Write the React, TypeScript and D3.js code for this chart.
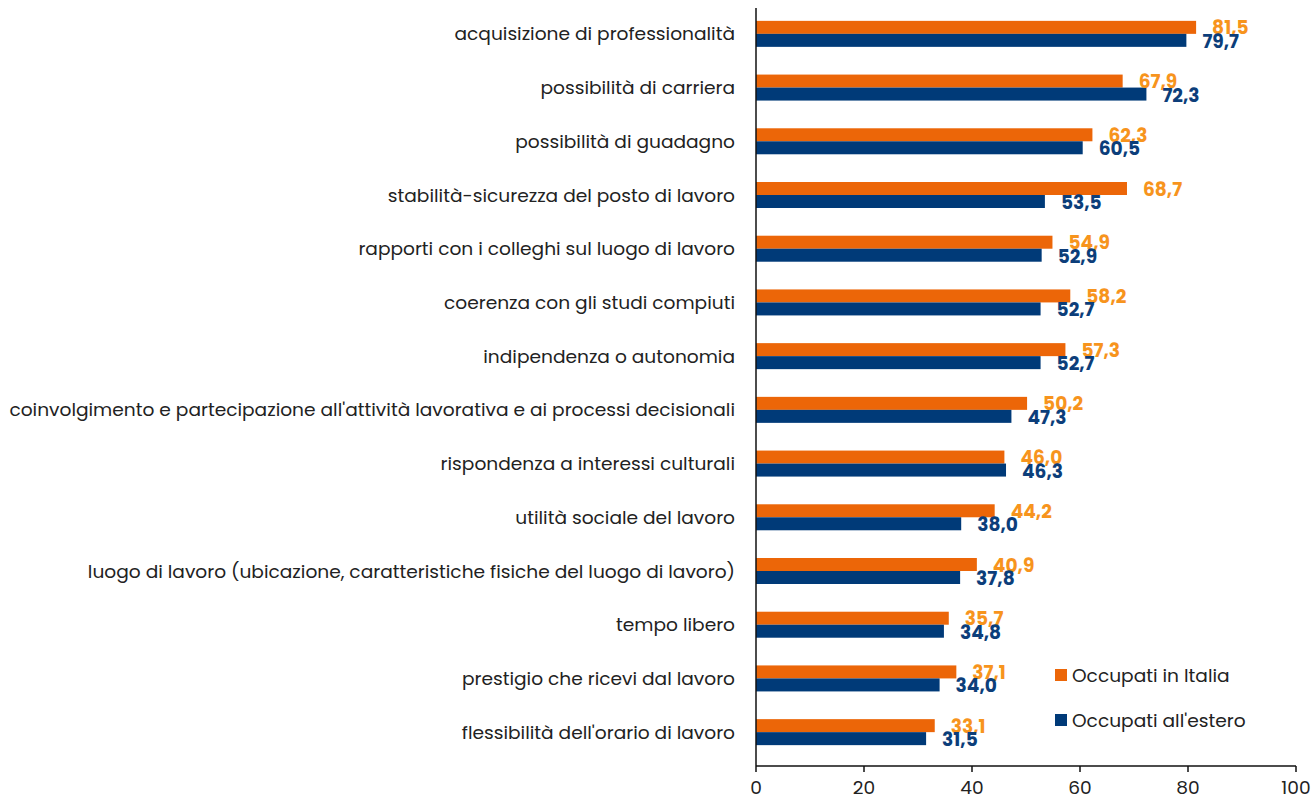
import * as d3 from "d3";

const categories = [
  "acquisizione di professionalità",
  "possibilità di carriera",
  "possibilità di guadagno",
  "stabilità-sicurezza del posto di lavoro",
  "rapporti con i colleghi sul luogo di lavoro",
  "coerenza con gli studi compiuti",
  "indipendenza o autonomia",
  "coinvolgimento e partecipazione all'attività lavorativa e ai processi decisionali",
  "rispondenza a interessi culturali",
  "utilità sociale del lavoro",
  "luogo di lavoro (ubicazione, caratteristiche fisiche del luogo di lavoro)",
  "tempo libero",
  "prestigio che ricevi dal lavoro",
  "flessibilità dell'orario di lavoro",
];

const italia = [81.5, 67.9, 62.3, 68.7, 54.9, 58.2, 57.3, 50.2, 46.0, 44.2, 40.9, 35.7, 37.1, 33.1];
const estero = [79.7, 72.3, 60.5, 53.5, 52.9, 52.7, 52.7, 47.3, 46.3, 38.0, 37.8, 34.8, 34.0, 31.5];

const seriesNames = ["Occupati in Italia", "Occupati all'estero"];
const xTicks = [0, 20, 40, 60, 80, 100];

const W = 1311;
const H = 796;
const FONT = "Poppins, 'Open Sans', sans-serif";
const FS = 18.6;
const ORANGE = "#EC6608";
const BLUE = "#003A78";
const ORANGE_LBL = "#F7941D";
const BLUE_LBL = "#0C3E7A";

const fmt = (v: number) => v.toFixed(1).replace(".", ",");

export default function App() {
  const x = d3.scaleLinear().domain([0, 100]).range([756, 1296]);
  const y = d3.scaleBand<string>().domain(categories).range([7, 759]);
  const barH = 13;
  const axisY = 766;

  return (
    <svg width={W} height={H} style={{ position: "absolute", left: 0, top: 0, background: "#fff" }} fontFamily={FONT}>
      {categories.map((c, i) => {
        const cy = y(c)! + y.bandwidth() / 2;
        return (
          <g key={c}>
            <text x={735} y={cy} dy="0.35em" textAnchor="end" fontSize={FS} fill="#222">
              {c}
            </text>
            <rect x={x(0)} y={cy - barH} width={x(italia[i]) - x(0)} height={barH} fill={ORANGE} />
            <rect x={x(0)} y={cy} width={x(estero[i]) - x(0)} height={barH} fill={BLUE} />
            <text x={x(italia[i]) + 16} y={cy + 0.5} fontSize={FS} fontWeight="bold" fill={ORANGE_LBL}>
              {fmt(italia[i])}
            </text>
            <text x={x(estero[i]) + 16} y={cy + 14} fontSize={FS} fontWeight="bold" fill={BLUE_LBL}>
              {fmt(estero[i])}
            </text>
          </g>
        );
      })}
      <line x1={x(0)} x2={x(0)} y1={8} y2={axisY} stroke="#111" strokeWidth={1.5} />
      <line x1={x(0)} x2={x(100)} y1={axisY} y2={axisY} stroke="#111" strokeWidth={1.5} />
      {xTicks.map((t) => (
        <g key={t}>
          <line x1={x(t)} x2={x(t)} y1={axisY} y2={axisY + 6} stroke="#111" strokeWidth={1.5} />
          <text x={x(t)} y={794} textAnchor="middle" fontSize={FS} fill="#222">
            {t}
          </text>
        </g>
      ))}
      {seriesNames.map((s, i) => (
        <g key={s} transform={`translate(1055,${669 + i * 45})`}>
          <rect width={12} height={12} fill={i === 0 ? ORANGE : BLUE} />
          <text x={17} y={6} dy="0.35em" fontSize={FS} fill="#222">
            {s}
          </text>
        </g>
      ))}
    </svg>
  );
}
